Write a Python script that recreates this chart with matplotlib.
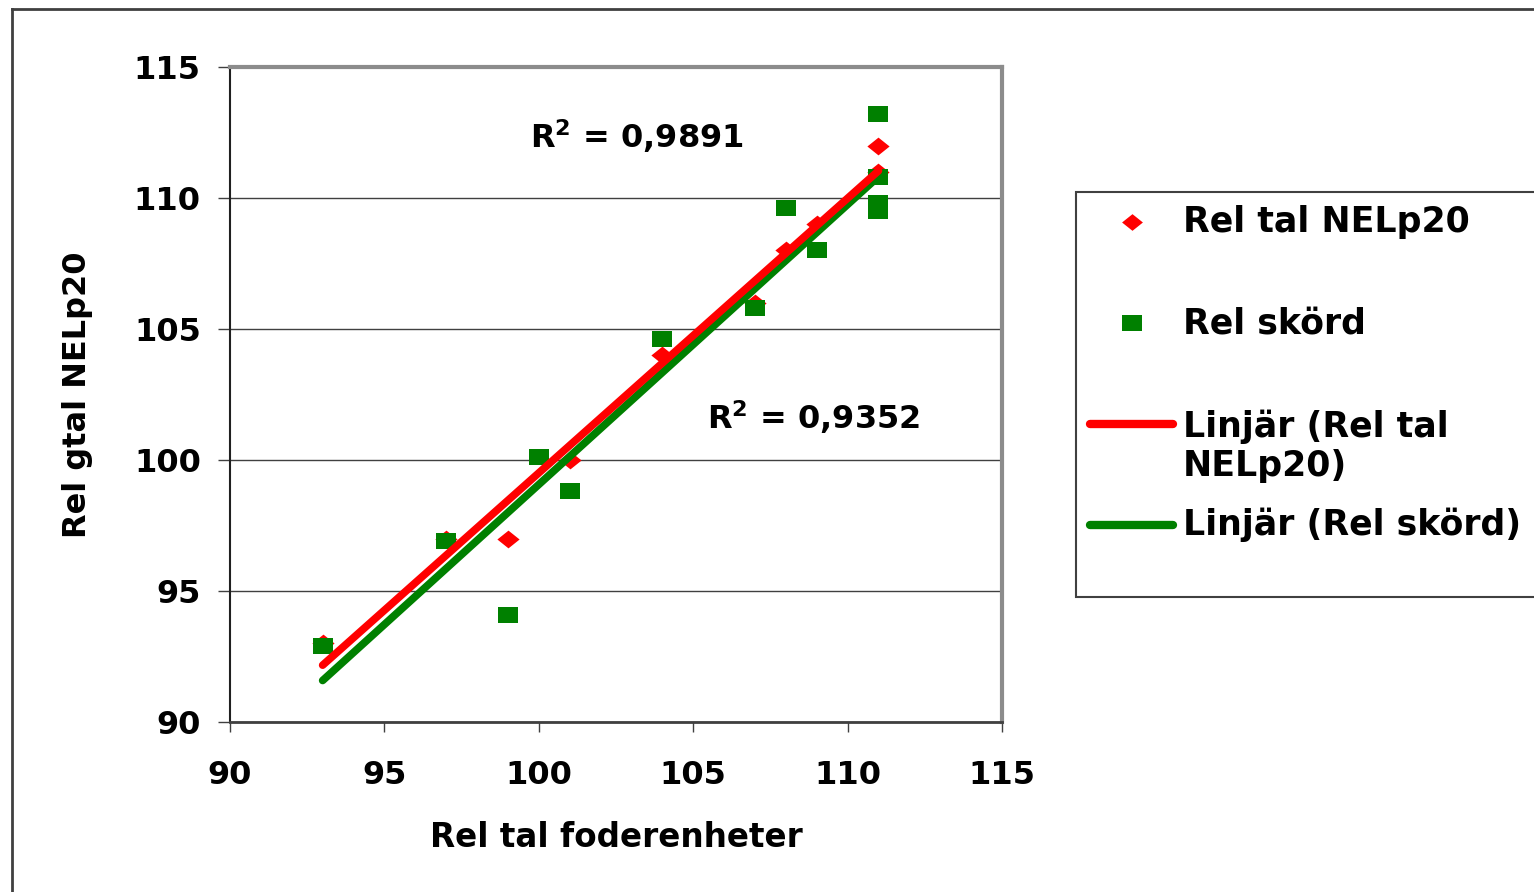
import numpy as np
import matplotlib.pyplot as plt
from matplotlib.lines import Line2D
from matplotlib.patches import Rectangle

plt.rcParams["font.family"] = ["DejaVu Sans"]
plt.rcParams["font.weight"] = "bold"
plt.rcParams["mathtext.fontset"] = "dejavusans"

# --------------------
# Data
# --------------------
nel_x = [93, 97, 99, 101, 104, 107, 108, 109, 111, 111]
nel_y = [93.0, 97.0, 97.0, 100.0, 104.0, 106.0, 108.0, 109.0, 111.0, 112.0]

skord_x = [93, 97, 99, 100, 101, 104, 107, 108, 109, 111, 111, 111, 111]
skord_y = [92.9, 96.9, 94.1, 100.1, 98.8, 104.6, 105.8, 109.6, 108.0,
           113.2, 110.8, 109.8, 109.5]

r2_labels = [r"R$^{\mathbf{2}}$ = 0,9891", r"R$^{\mathbf{2}}$ = 0,9352"]
ticks = [90, 95, 100, 105, 110, 115]

legend_labels = ["Rel tal NELp20", "Rel skörd",
                 "Linjär (Rel tal\nNELp20)", "Linjär (Rel skörd)"]

RED = "#ff0000"
GREEN = "#008000"
W, H = 1534, 892

diamond = [(-1, 0), (0, 0.8), (1, 0), (0, -0.8), (-1, 0)]
square = [(-1, -0.78), (1, -0.78), (1, 0.78), (-1, 0.78), (-1, -0.78)]


def px(x, y):
    return x / W, 1 - y / H


fig = plt.figure(figsize=(W / 100, H / 100), dpi=100)
ax = fig.add_axes([230 / W, 1 - 722 / H, (1002 - 230) / W, (722 - 67) / H])

# --------------------
# Points and trend lines
# --------------------
ax.plot(nel_x, nel_y, linestyle="none", marker=diamond, markersize=16,
        color=RED, markeredgewidth=0, zorder=3)
ax.plot(skord_x, skord_y, linestyle="none", marker=square, markersize=14,
        color=GREEN, markeredgewidth=0, zorder=4)

for xs, ys, col in [(skord_x, skord_y, GREEN), (nel_x, nel_y, RED)]:
    k, m = np.polyfit(xs, ys, 1)
    xx = np.array([min(xs), max(xs)])
    ax.plot(xx, k * xx + m, color=col, linewidth=5.5,
            solid_capstyle="round", zorder=5)

ax.text(99.7, 112.35, r2_labels[0], fontsize=23, fontweight="bold",
        ha="left", va="center", zorder=6)
ax.text(105.45, 101.65, r2_labels[1], fontsize=23, fontweight="bold",
        ha="left", va="center", zorder=6)

# --------------------
# Axes styling
# --------------------
ax.set_xlim(90, 115)
ax.set_ylim(90, 115)
ax.set_xticks(ticks)
ax.set_yticks(ticks)
ax.yaxis.grid(True, color="#404040", linewidth=1.0)
ax.set_axisbelow(True)

ax.spines["left"].set_color("#202020")
ax.spines["bottom"].set_color("#404040")
ax.spines["left"].set_linewidth(1.5)
ax.spines["bottom"].set_linewidth(2)
for s in ["top", "right"]:
    ax.spines[s].set_color("#8c8c8c")
    ax.spines[s].set_linewidth(3)

ax.tick_params(axis="y", direction="out", length=9, width=1,
               color="#404040", labelsize=23, pad=12)
ax.tick_params(axis="x", direction="out", length=7, width=1,
               color="#404040", labelsize=23, pad=20)
for lab in ax.get_xticklabels() + ax.get_yticklabels():
    lab.set_fontweight("bold")

ax.set_xlabel("Rel tal foderenheter", fontsize=23.5, fontweight="bold")
ax.xaxis.set_label_coords(0.501, -0.176)
ax.xaxis.label.set_va("center")
ax.set_ylabel("Rel gtal NELp20", fontsize=23, fontweight="bold")
ax.yaxis.set_label_coords(-0.197, 0.499)
ax.yaxis.label.set_va("center")

# --------------------
# Outer frame and legend
# --------------------
fig.add_artist(Line2D([12 / W, 12 / W], [0, 1 - 9 / H], transform=fig.transFigure,
                      color="#404040", linewidth=2))
fig.add_artist(Line2D([12 / W, 1], [1 - 9 / H, 1 - 9 / H], transform=fig.transFigure,
                      color="#404040", linewidth=2))

lx, ly = px(1076, 597)
fig.add_artist(Rectangle((lx, ly), 1.2, (597 - 192) / H, transform=fig.transFigure,
                         facecolor="white", edgecolor="#404040", linewidth=1.5,
                         clip_on=False))

row_y = [222, 323, 446, 525]
handles = [("marker", diamond, RED), ("marker", square, GREEN),
           ("line", None, RED), ("line", None, GREEN)]
for (kind, mk, col), lab, yy in zip(handles, legend_labels, row_y):
    if kind == "marker":
        hx, hy = px(1132, yy)
        fig.add_artist(Line2D([hx], [hy], marker=mk, markersize=15 if mk is diamond else 14,
                              color=col, markeredgewidth=0, linestyle="none",
                              transform=fig.transFigure))
    else:
        line_y = 424 if "\n" in lab else yy
        x0, y0 = px(1090, line_y)
        x1, _ = px(1173, line_y)
        fig.add_artist(Line2D([x0, x1], [y0, y0], color=col, linewidth=6,
                              solid_capstyle="round", transform=fig.transFigure))
    tx, ty = px(1183, yy)
    fig.text(tx, ty, lab, fontsize=25, fontweight="bold", ha="left",
             va="center", linespacing=1.2)

fig.savefig("out.png", dpi=100)
